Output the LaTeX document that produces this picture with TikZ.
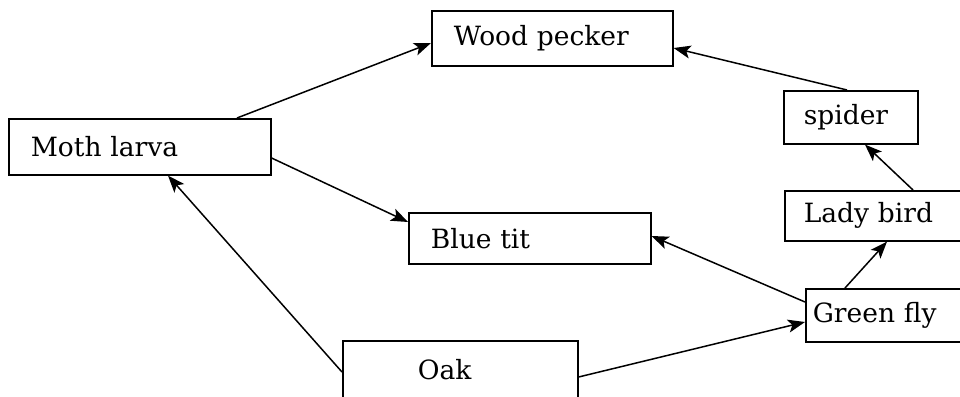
\documentclass[tikz,border=0pt]{standalone}
\usepackage{fontspec}
\setmainfont{DejaVu Serif}
\usetikzlibrary{arrows.meta,calc}

\tikzset{
  box/.style={draw, line width=1.6pt, rectangle, align=left, anchor=north west,
              inner ysep=0pt, font=\fontsize{26.5}{30}\selectfont},
  feeds/.style={line width=1.5pt, -{Stealth[length=17pt,width=13pt,inset=4pt]}},
}

\begin{document}
\begin{tikzpicture}[x=1pt, y=-1pt]
  \fill[white] (0,0) rectangle (960,396);
  \useasboundingbox (0,0) rectangle (960,396);

  % organisms
  \node[box, minimum height=55pt, text width=197pt, inner xsep=22pt] (wp)     at (431,10)  {Wood pecker};
  \node[box, minimum height=56pt, text width=218pt, inner xsep=22pt] (moth)   at (8,118)   {Moth larva};
  \node[box, minimum height=53pt, text width=94pt,  inner xsep=20pt] (spider) at (783,90)  {spider};
  \node[box, minimum height=50pt, text width=153pt, inner xsep=19pt] (lady)   at (784,190) {Lady bird};
  \node[box, minimum height=51pt, text width=198pt, inner xsep=22pt] (blue)   at (408,212) {Blue tit};
  \node[box, minimum height=53pt, text width=156pt, inner xsep=7pt]  (green)  at (805,288) {Green fly};
  \node[box, minimum height=58pt, text width=85pt,  inner xsep=75pt] (oak)    at (342,340) {Oak};

  % who is eaten by whom
  \draw[feeds] ($(moth.north west)+(229,0)$)   -- ($(wp.north west)+(0,33)$);
  \draw[feeds] ($(moth.north east)+(0,40)$)    -- ($(blue.north west)+(0,10)$);
  \draw[feeds] ($(oak.north west)+(0,32)$)     -- ($(moth.south west)+(160,0)$);
  \draw[feeds] ($(oak.north east)+(0,37)$)     -- ($(green.north west)+(0,34)$);
  \draw[feeds] ($(green.north west)+(0,14)$)   -- ($(blue.north east)+(0,24)$);
  \draw[feeds] ($(green.north west)+(40,0)$)   -- ($(lady.south west)+(103,0)$);
  \draw[feeds] ($(lady.north west)+(129,0)$)   -- ($(spider.south west)+(82,0)$);
  \draw[feeds] ($(spider.north west)+(64,0)$)  -- ($(wp.north east)+(0,38)$);
\end{tikzpicture}
\end{document}
